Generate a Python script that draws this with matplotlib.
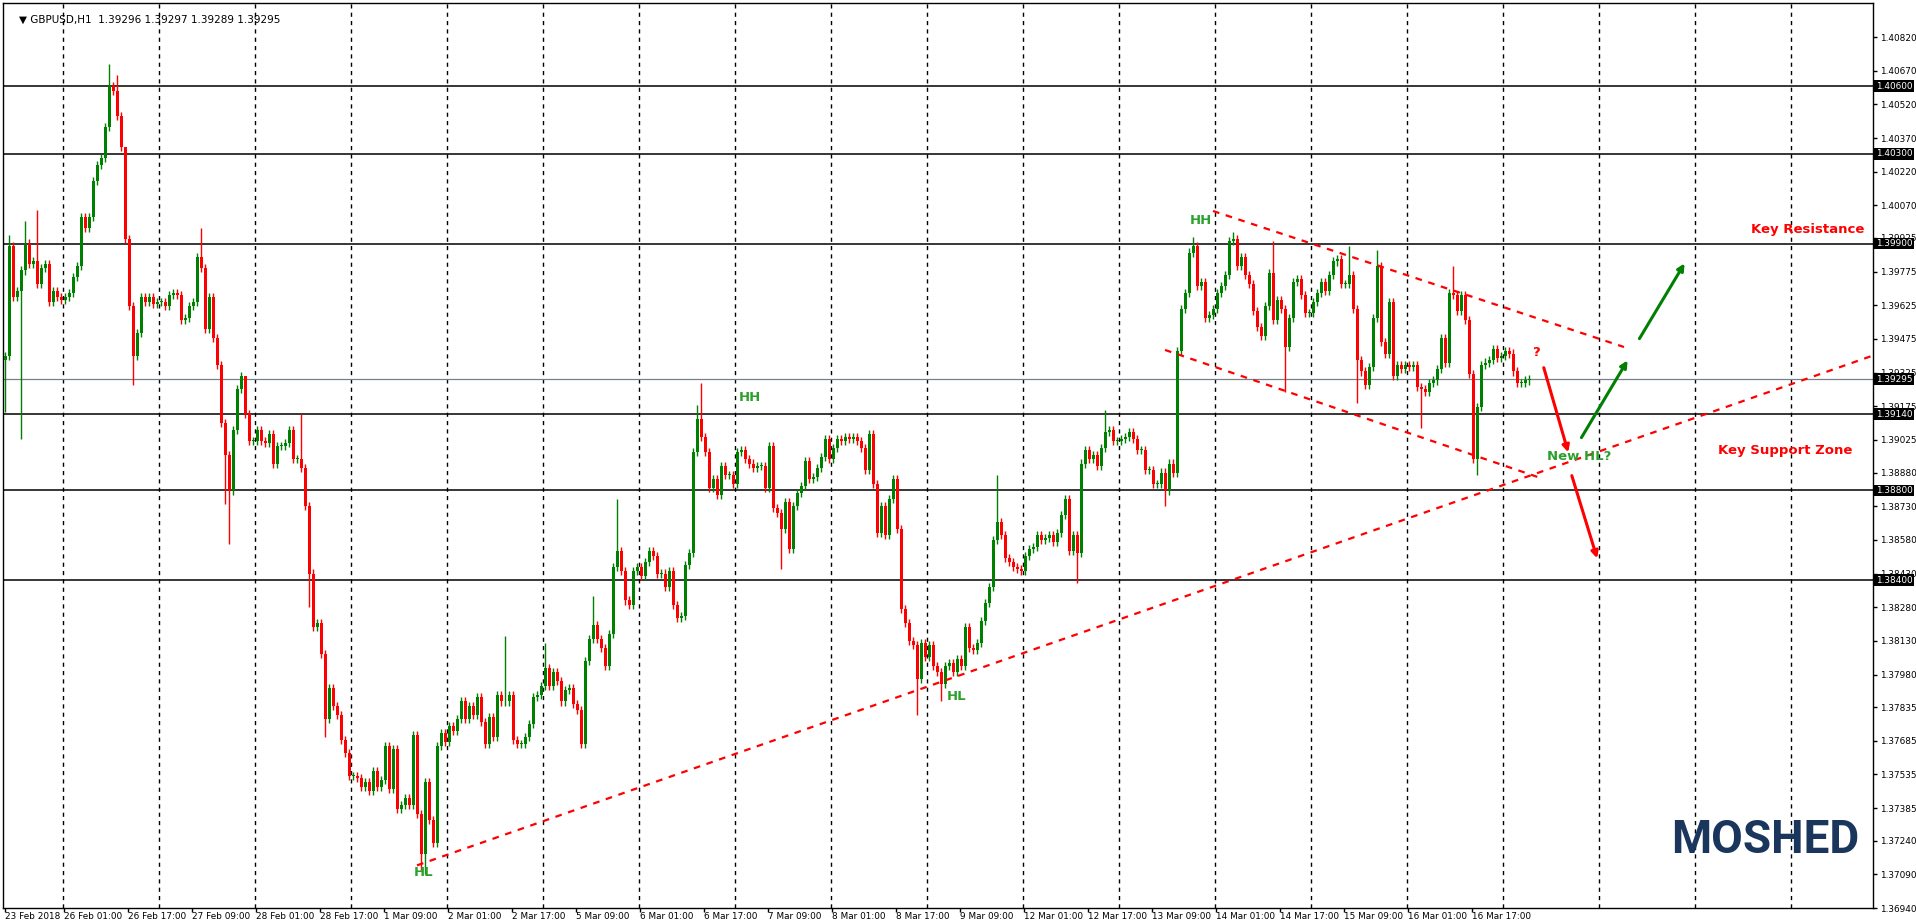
import matplotlib
matplotlib.use("Agg")
import matplotlib.pyplot as plt
import numpy as np

# hourly closes, in pips above 1.3700
closes = [
    240, 289, 266, 269, 278, 290, 281, 282, 272, 279,
    281, 264, 269, 266, 265, 266, 268, 275, 280, 302,
    297, 302, 318, 325, 328, 342, 360, 358, 347, 333,
    292, 262, 240, 250, 266, 264, 266, 263, 264, 264,
    262, 267, 268, 267, 256, 257, 262, 264, 284, 279,
    252, 266, 248, 236, 210, 196, 180, 207, 225, 231,
    214, 202, 202, 207, 202, 201, 205, 192, 200, 200,
    201, 207, 194, 194, 190, 173, 143, 119, 121, 107,
    78, 92, 84, 80, 69, 63, 53, 53, 52, 48,
    50, 46, 55, 48, 51, 66,
    47, 65, 38, 40, 43, 40, 71, 36, 18, 50,
    33, 23, 66, 72, 68, 75, 73, 78, 86, 78,
    84, 80, 88, 77, 67, 79, 70, 89, 86, 86,
    89, 69, 67, 67, 70, 76, 88, 89, 93, 101,
    93, 99, 95, 86, 91, 92, 85, 82, 67, 104,
    114, 120, 114, 110, 102, 116, 146, 153, 144, 131,
    129, 144, 146, 142, 148, 153, 151, 143, 143, 137,
    144, 129, 123, 124, 147, 152, 197, 212, 204, 197,
    181, 185, 178, 191, 187, 187, 183, 197, 198, 194,
    192, 190, 191, 191, 181, 200,
    172, 170, 163, 175, 154, 173, 179, 182, 193, 185,
    186, 190, 195, 203, 194, 199, 203, 202, 204, 203,
    204, 202, 199, 189, 205, 183, 161, 173, 160, 176,
    185, 163, 127, 121, 113, 111, 96, 112, 106, 111,
    102, 99, 94, 102, 103, 99, 105, 102, 119, 110,
    109, 112, 122, 130, 137, 158, 166, 160, 150, 148,
    146, 145, 144, 151, 154, 155, 160, 158, 159, 160,
    157, 161, 169, 176, 153, 160, 152, 192, 198, 194,
    196, 191, 199, 206, 207, 202, 202, 203, 204, 206,
    203, 198, 198, 189, 189, 183,
    183, 188, 180, 192, 188, 242, 261, 268, 286, 289,
    271, 273, 257, 258, 261, 268, 271, 276, 291, 292,
    280, 284, 276, 272, 260, 253, 249, 262, 277, 256,
    265, 261, 244, 257, 273, 274, 267, 259, 259, 264,
    268, 273, 269, 276, 282, 283, 272, 272, 276, 261,
    238, 233, 227, 235, 257, 280, 246, 241, 264, 231,
    236, 234, 236, 235, 236, 226, 225, 224, 228, 229,
    234, 248, 237, 268, 267, 260, 267, 256, 232, 194,
    217, 236, 237, 238, 243, 239, 240, 242, 241, 233,
    228, 228, 229, 229.5,
]
first_open = 238
# long wicks that stand out
big_highs = {1: 294, 5: 300, 8: 305, 26: 370, 27: 362, 28: 365, 30: 297, 49: 297,
             60: 218, 74: 214, 125: 115, 135: 112, 147: 133, 153: 176, 173: 218,
             174: 228, 248: 187, 275: 216, 297: 293, 307: 295, 317: 291, 336: 289,
             343: 287, 362: 280}
big_lows = {0: 215, 4: 203, 32: 227, 55: 174, 56: 156, 76: 128, 80: 70, 104: 11,
            105: 9, 194: 145, 228: 80, 234: 86, 268: 139, 290: 173, 320: 224,
            338: 219, 354: 208, 368: 187}

levels = [1.4060, 1.4030, 1.3990, 1.3914, 1.3880, 1.3840]
last_price = 1.39295
ytick_vals = [1.40820, 1.40670, 1.40520, 1.40370, 1.40220, 1.40070, 1.39925, 1.39775,
              1.39625, 1.39475, 1.39325, 1.39175, 1.39025, 1.38880, 1.38730, 1.38580,
              1.38430, 1.38280, 1.38130, 1.37980, 1.37835, 1.37685, 1.37535, 1.37385,
              1.37240, 1.37090, 1.36940]
date_labels = ["26 Feb 01:00", "26 Feb 17:00", "27 Feb 09:00", "28 Feb 01:00",
               "28 Feb 17:00", "1 Mar 09:00", "2 Mar 01:00", "2 Mar 17:00",
               "5 Mar 09:00", "6 Mar 01:00", "6 Mar 17:00", "7 Mar 09:00",
               "8 Mar 01:00", "8 Mar 17:00", "9 Mar 09:00", "12 Mar 01:00",
               "12 Mar 17:00", "13 Mar 09:00", "14 Mar 01:00", "14 Mar 17:00",
               "15 Mar 09:00", "16 Mar 01:00", "16 Mar 17:00"]

W, H = 1916, 922
GREEN, RED = "#008000", "#ff0000"
AXFS = 6.4

close = 1.37 + np.array(closes) / 1e4
opn = np.concatenate([[1.37 + first_open / 1e4], close[:-1]])
hi = np.maximum(opn, close) + 0.00018
lo = np.minimum(opn, close) - 0.00018
for k, v in big_highs.items():
    hi[k] = 1.37 + v / 1e4
for k, v in big_lows.items():
    lo[k] = 1.37 + v / 1e4
x = np.arange(len(close))

fig = plt.figure(figsize=(W / 100, H / 100), dpi=100)
ax = fig.add_axes([3 / W, 14 / H, 1870 / W, 905 / H])
ax.set_xlim(-0.5, 467)
ax.set_ylim(1.369400, 1.409715)


def px(xp, yp):
    # screen pixel -> data coords, used for the drawn annotations
    return (xp - 5) / 4, 1.4082 - (yp - 37) / 22448


# day separators
for g in np.arange(14.5, 467, 24):
    ax.axvline(g, color="black", lw=1, ls=(0, (3, 3)), zorder=1)
for lv in levels:
    ax.axhline(lv, color="black", lw=1.1, zorder=1)
ax.axhline(last_price, color="#778088", lw=0.9, zorder=1)

# candles
up = close >= opn
cols = np.where(up, GREEN, RED)
ax.vlines(x, lo, hi, colors=cols, lw=1, zorder=3)
body = np.maximum(np.abs(close - opn), 0.00004)
ax.bar(x, body, bottom=np.minimum(opn, close), width=0.75, color=cols,
       linewidth=0, zorder=4)

# trend lines
tl = dict(color=RED, lw=1.6, ls=(0, (3, 3)), zorder=5)
ax.plot([103, 468.75], [1.3713, 1.39412], **tl)
ax.plot([302, 404.75], [1.40045, 1.39439], **tl)
ax.plot([290, 384], [1.39426, 1.38855], **tl)

# scenario arrows
def arrow(p0, p1, c):
    ax.annotate("", xy=px(*p1), xytext=px(*p0),
                arrowprops=dict(arrowstyle="-|>", color=c, lw=2.2,
                                mutation_scale=10), zorder=6)

arrow((1543, 365), (1569, 455), RED)
arrow((1571, 473), (1598, 561), RED)
arrow((1580, 440), (1629, 358), GREEN)
arrow((1638, 341), (1686, 261), GREEN)

lab = dict(fontsize=9.5, fontweight="bold", ha="center", va="center", zorder=7)
ax.text(*px(1201, 220), "HH", color="#2ca02c", **lab)
ax.text(*px(750, 397), "HH", color="#2ca02c", **lab)
ax.text(*px(424, 872), "HL", color="#2ca02c", **lab)
ax.text(*px(957, 696), "HL", color="#2ca02c", **lab)
ax.text(*px(1579, 456), "New HL?", color="#2ca02c", **lab)
ax.text(*px(1536, 352), "?", color=RED, **lab)
ax.text(*px(1808, 229), "Key Resistance", color=RED, **lab)
ax.text(*px(1785, 450), "Key Support Zone", color=RED, **lab)

ax.text(1762 / 1870, 0.075, "MOSHED", transform=ax.transAxes, fontsize=33,
        fontweight="bold", color="#1b365d", ha="center", va="center",
        family="Roboto", zorder=7)

ax.text(0.0085, 0.987, "\u25bc GBPUSD,H1  1.39296 1.39297 1.39289 1.39295",
        transform=ax.transAxes, fontsize=7.5, va="top", zorder=7)

# axes
ax.yaxis.tick_right()
ax.set_yticks(ytick_vals)
ax.set_yticklabels([f"{v:.5f}" for v in ytick_vals], fontsize=AXFS)
ax.tick_params(axis="y", length=3, width=1, pad=2)
for lv in levels + [last_price]:
    ax.text(1.0015, lv, f"{lv:.5f}", transform=ax.get_yaxis_transform(),
            fontsize=AXFS, color="white", va="center", ha="left",
            bbox=dict(facecolor="black", edgecolor="none", pad=1.0), zorder=8)

xt = [0] + [14.75 + 16 * k for k in range(len(date_labels))]
ax.set_xticks(xt)
ax.set_xticklabels(["23 Feb 2018"] + date_labels, fontsize=AXFS, ha="left")
ax.tick_params(axis="x", length=3, width=1, pad=0)
for s in ax.spines.values():
    s.set_linewidth(1)

fig.savefig("out.png", dpi=100)
